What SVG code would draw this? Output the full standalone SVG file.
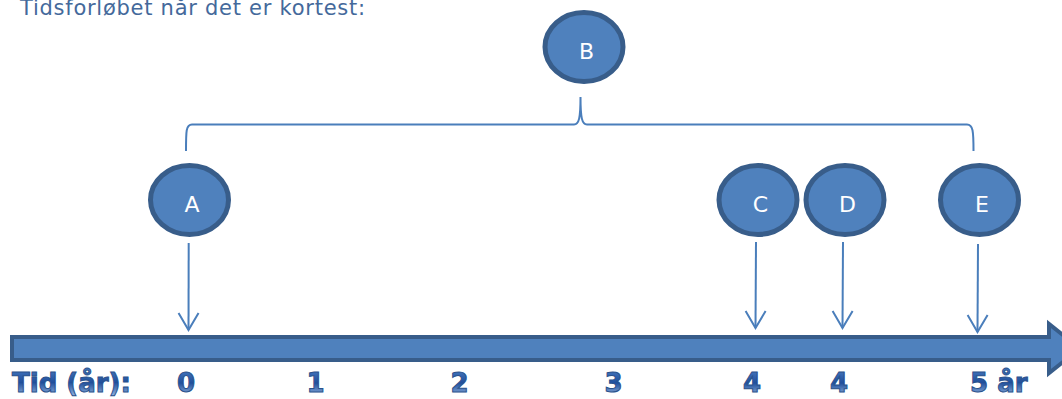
<svg xmlns="http://www.w3.org/2000/svg" width="1062" height="399" viewBox="0 0 1062 399">
  <defs>
    <linearGradient id="wa" x1="0" y1="0" x2="0" y2="1">
      <stop offset="0" stop-color="#4a7cc2"/>
      <stop offset="0.5" stop-color="#1f4f9c"/>
      <stop offset="1" stop-color="#a4c2ea"/>
    </linearGradient>
    <marker id="vhead" viewBox="0 0 20 24" refX="18" refY="12" markerWidth="20" markerHeight="24" markerUnits="userSpaceOnUse" orient="auto">
      <path d="M1,2 L18,12 L1,22" fill="none" stroke="#4a7ebb" stroke-width="2"/>
    </marker>
    <style>
      .node ellipse { fill: #4f81bd; stroke: #385d8a; stroke-width: 5; }
      .node text { fill: #ffffff; font-family: "DejaVu Sans", Verdana, sans-serif; font-size: 22px; text-anchor: middle; }
      .conn { fill: none; stroke: #4a7ebb; stroke-width: 2; }
      .wa { font-family: "DejaVu Sans", Verdana, sans-serif; font-weight: bold; font-size: 26px; fill: url(#wa); stroke: #2b528c; stroke-width: 1; }
      .num { text-anchor: middle; }
    </style>
  </defs>

  <text x="20" y="15" font-family="DejaVu Sans, Verdana, sans-serif" font-size="21" fill="#44699b" textLength="345" lengthAdjust="spacing">Tidsforløbet når det er kortest:</text>

  <g id="timeline">
    <path d="M12,337 L1049,337 L1049,324 L1080,348.5 L1049,373 L1049,360 L12,360 Z" fill="#4f81bd" stroke="#385d8a" stroke-width="4" stroke-linejoin="miter"/>
  </g>

  <g id="connectors">
    <path class="conn" d="M186,151 C186,131 186,124.5 192,124.5 L574,124.5 C579,124.5 580.5,118 580.5,97 C580.5,118 582,124.5 587,124.5 L967,124.5 C973,124.5 973.5,131 973.5,151"/>
    <line class="conn" x1="188.7" y1="243" x2="188.5" y2="330" marker-end="url(#vhead)"/>
    <line class="conn" x1="756" y1="242" x2="755.5" y2="328" marker-end="url(#vhead)"/>
    <line class="conn" x1="843" y1="242" x2="842.5" y2="328" marker-end="url(#vhead)"/>
    <line class="conn" x1="978" y1="244" x2="977.5" y2="332" marker-end="url(#vhead)"/>
  </g>

  <g id="node-B" class="node">
    <ellipse cx="584" cy="47" rx="39" ry="34.5"/>
    <text x="586.5" y="59">B</text>
  </g>
  <g id="node-A" class="node">
    <ellipse cx="189.5" cy="200" rx="39" ry="34.5"/>
    <text x="192" y="212">A</text>
  </g>
  <g id="node-C" class="node">
    <ellipse cx="758" cy="200" rx="39" ry="34.5"/>
    <text x="760.5" y="212">C</text>
  </g>
  <g id="node-D" class="node">
    <ellipse cx="845" cy="200" rx="39" ry="34.5"/>
    <text x="847.5" y="212">D</text>
  </g>
  <g id="node-E" class="node">
    <ellipse cx="979.5" cy="200" rx="39" ry="34.5"/>
    <text x="982" y="212">E</text>
  </g>

  <g id="axis-labels">
    <text class="wa" x="12" y="392">Tid (år):</text>
    <text class="wa num" x="186" y="392">0</text>
    <text class="wa num" x="315.5" y="392">1</text>
    <text class="wa num" x="459.5" y="392">2</text>
    <text class="wa num" x="613.5" y="392">3</text>
    <text class="wa num" x="752" y="392">4</text>
    <text class="wa num" x="839" y="392">4</text>
    <text class="wa" x="970" y="392">5 år</text>
  </g>
</svg>
